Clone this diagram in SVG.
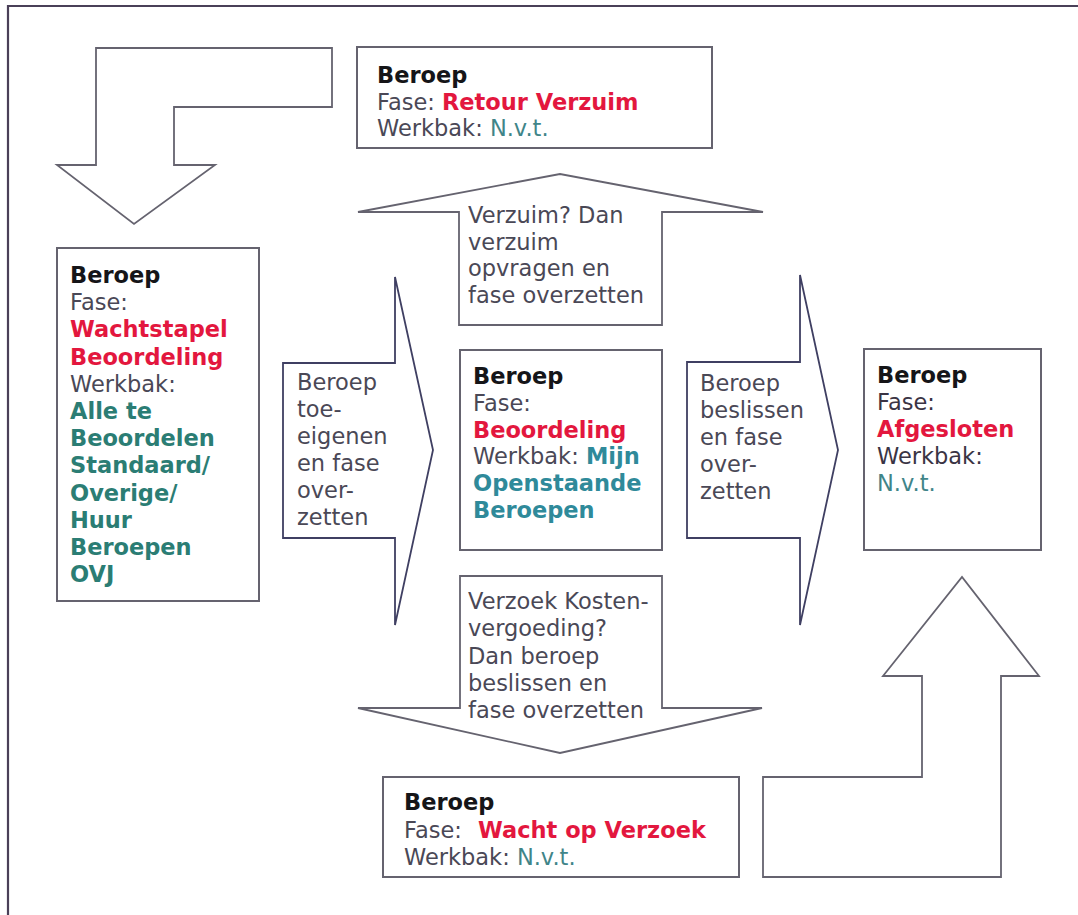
<svg xmlns="http://www.w3.org/2000/svg" width="1078" height="915" viewBox="0 0 1078 915">
<defs>
<style>
.frame{fill:none;stroke:#4a4058;stroke-width:2.2}
.box{fill:#ffffff;stroke:#65636f;stroke-width:2}
.arr{fill:#ffffff;stroke:#65636f;stroke-width:1.8;stroke-linejoin:miter}
.arrb{fill:#ffffff;stroke:#3f3f62;stroke-width:1.8;stroke-linejoin:miter}
text{font-family:"DejaVu Sans","Verdana",sans-serif;font-size:22.5px;fill:#4a4856}
.t{font-weight:bold;fill:#151518}
.r{font-weight:bold;fill:#e3173e}
.g{font-weight:bold;fill:#2b7d74}
.b{font-weight:bold;fill:#2f8a9a}
.n{fill:#3f8589}
.d{fill:#3a3444}
</style>
</defs>
<rect x="0" y="0" width="1078" height="915" fill="#ffffff"/>
<path class="frame" d="M8,915 V6 H1078"/>
<g id="connectors">
<polygon class="arr" points="96,48 332,48 332,107 174,107 174,165 215,165 134,224 57,165 96,165"/>
<polygon class="arr" points="459,325 459,212 358,212 560,174 763,212 662,212 662,325"/>
<polygon class="arrb" points="283,363 395,363 395,277 433,450 395,625 395,538 283,538"/>
<polygon class="arrb" points="687,362 800,362 800,275 838,450 800,625 800,538 687,538"/>
<polygon class="arr" points="460,576 662,576 662,708 762,708 560,753 358,708 460,708"/>
<polygon class="arr" points="763,777 922,777 922,676 883,676 962,577 1039,676 1001,676 1001,877 763,877"/>
<text x="468" y="223">Verzuim? Dan</text>
<text x="468" y="249.7">verzuim</text>
<text x="468" y="276.4">opvragen en</text>
<text x="468" y="303">fase overzetten</text>
<text x="297" y="390">Beroep</text>
<text x="297" y="417">toe-</text>
<text x="297" y="444">eigenen</text>
<text x="297" y="471">en fase</text>
<text x="297" y="498">over-</text>
<text x="297" y="525">zetten</text>
<text x="700" y="390.5">Beroep</text>
<text x="700" y="417.5">beslissen</text>
<text x="700" y="444.5">en fase</text>
<text x="700" y="471.5">over-</text>
<text x="700" y="498.5">zetten</text>
<text x="468" y="609">Verzoek Kosten-</text>
<text x="468" y="636.3">vergoeding?</text>
<text x="468" y="663.6">Dan beroep</text>
<text x="468" y="690.9">beslissen en</text>
<text x="468" y="718">fase overzetten</text>
</g>
<g id="node-top">
<rect class="box" x="357" y="47" width="355" height="101"/>
<text x="377" y="83" class="t">Beroep</text>
<text x="377" y="109.5">Fase: <tspan class="r">Retour Verzuim</tspan></text>
<text x="377" y="135.5">Werkbak: <tspan class="n">N.v.t.</tspan></text>
</g>
<g id="node-left">
<rect class="box" x="57" y="248" width="202" height="353"/>
<text x="70" y="283" class="t">Beroep</text>
<text x="70" y="310.2">Fase:</text>
<text x="70" y="337.4" class="r">Wachtstapel</text>
<text x="70" y="364.6" class="r">Beoordeling</text>
<text x="70" y="391.8">Werkbak:</text>
<text x="70" y="419" class="g">Alle te</text>
<text x="70" y="446.2" class="g">Beoordelen</text>
<text x="70" y="473.4" class="g">Standaard/</text>
<text x="70" y="500.6" class="g">Overige/</text>
<text x="70" y="527.8" class="g">Huur</text>
<text x="70" y="555" class="g">Beroepen</text>
<text x="70" y="582.2" class="g">OVJ</text>
</g>
<g id="node-middle">
<rect class="box" x="460" y="350" width="202" height="200"/>
<text x="473" y="384" class="t">Beroep</text>
<text x="473" y="410.8">Fase:</text>
<text x="473" y="437.6" class="r">Beoordeling</text>
<text x="473" y="464.4">Werkbak: <tspan class="b">Mijn</tspan></text>
<text x="473" y="491.2" class="b">Openstaande</text>
<text x="473" y="518" class="b">Beroepen</text>
</g>
<g id="node-right">
<rect class="box" x="864" y="349" width="177" height="201"/>
<text x="877" y="383" class="t">Beroep</text>
<text x="877" y="410" class="d">Fase:</text>
<text x="877" y="437" class="r">Afgesloten</text>
<text x="877" y="464" class="d">Werkbak:</text>
<text x="877" y="491" class="n">N.v.t.</text>
</g>
<g id="node-bottom">
<rect class="box" x="383" y="777" width="356" height="100"/>
<text x="404" y="810" class="t">Beroep</text>
<text x="404" y="837.5">Fase: <tspan x="478" class="r">Wacht op Verzoek</tspan></text>
<text x="404" y="864.5">Werkbak: <tspan class="n">N.v.t.</tspan></text>
</g>
</svg>
